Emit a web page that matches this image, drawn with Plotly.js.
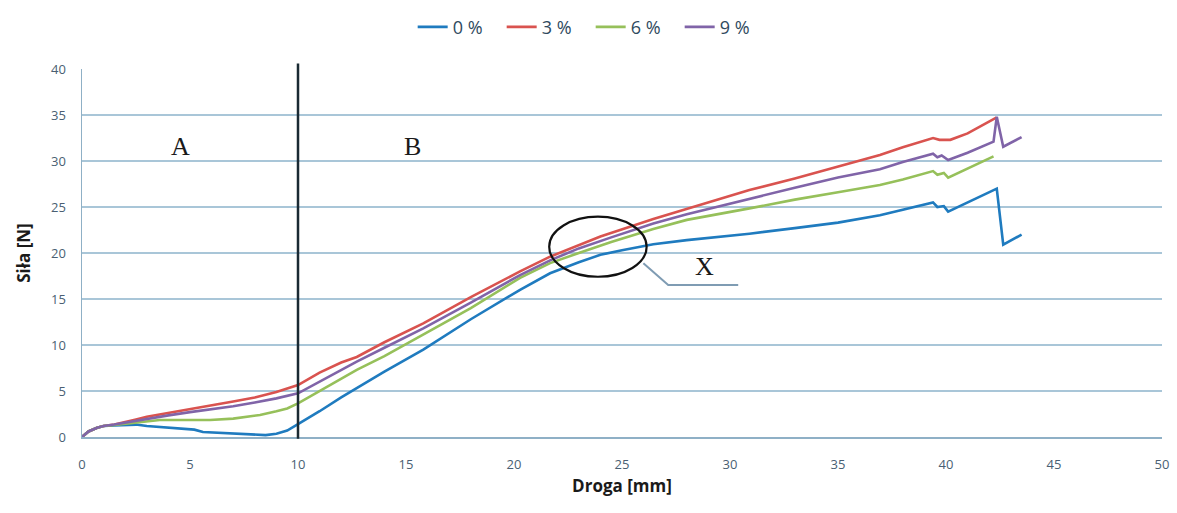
<!DOCTYPE html>
<html>
<head>
<meta charset="utf-8">
<script src="https://cdn.plot.ly/plotly-3.0.1.min.js"></script>
<style>html,body{margin:0;padding:0;background:#fff;}#chart{width:1177px;height:513px;}</style>
</head>
<body>
<div id="chart"></div>
<script>
// Series names
const seriesNames = ["0 %", "3 %", "6 %", "9 %"];

// 0 %
const x0 = [0,0.3,0.7,1,1.5,2,2.5,3,3.6,4.5,5.2,5.6,6,7,8,8.5,9,9.5,10,11,12,12.72,14,15.8,18,20.28,21.67,23,24,25,26.45,28,30.9,33,35,36.94,38,39.4,39.6,39.9,40.1,41,42.35,42.65,43.5];
const y0 = [0,0.6,1.0,1.2,1.25,1.3,1.35,1.2,1.1,0.9,0.8,0.55,0.5,0.4,0.25,0.2,0.35,0.7,1.4,2.8,4.3,5.3,7.1,9.5,12.8,16.0,17.8,19.0,19.8,20.3,20.95,21.4,22.1,22.7,23.3,24.1,24.7,25.5,25.0,25.1,24.5,25.5,27.0,20.9,22.0];

// 3 %
const x3 = [0,0.3,0.7,1,1.5,2,2.5,3,4,5,6,7,8,9,10,11,12,12.72,14,15.8,18,20.28,21.67,23,24,26.45,28,30.9,33,35,36.94,38,39.4,39.7,40.2,41,42.35];
const y3 = [0,0.6,1.0,1.2,1.35,1.6,1.9,2.2,2.6,3.0,3.45,3.85,4.3,4.9,5.65,7.0,8.1,8.7,10.3,12.35,15.2,18.0,19.6,20.9,21.8,23.7,24.8,26.85,28.1,29.4,30.65,31.5,32.5,32.3,32.3,33.0,34.75];

// 6 %
const x6 = [0,0.3,0.7,1,1.5,2,2.5,3,3.6,4.5,5.93,7,8.24,9,9.5,10,11,12,12.72,14,15.8,18,20.28,21.67,23,24.5,26.45,28,30.9,33,35,36.94,38,39.4,39.6,39.9,40.1,41,42.2];
const y6 = [0,0.6,1.0,1.2,1.3,1.45,1.6,1.75,1.85,1.85,1.85,2.0,2.4,2.8,3.1,3.66,5.0,6.3,7.3,8.8,11.1,14.0,17.3,18.9,20.0,21.2,22.6,23.6,24.85,25.8,26.6,27.4,28.0,28.9,28.5,28.7,28.2,29.2,30.5];

// 9 %
const x9 = [0,0.3,0.7,1,1.5,2,2.5,3,4,5,6,7,8,9,10,11,12,12.72,14,15.8,18,20.28,21.67,23,24.5,26.45,28,30.9,33,35,36.94,38,39.4,39.6,39.8,40.1,41,42.2,42.35,42.65,43.5];
const y9 = [0,0.6,1.0,1.2,1.35,1.55,1.75,2.0,2.35,2.7,3.0,3.35,3.75,4.2,4.75,6.0,7.3,8.2,9.7,11.8,14.6,17.6,19.2,20.5,21.7,23.2,24.2,25.9,27.1,28.2,29.1,29.9,30.8,30.4,30.6,30.1,30.9,32.1,34.8,31.55,32.6];

const xTicks = [0,5,10,15,20,25,30,35,40,45,50];
const yTicks = [0,5,10,15,20,25,30,35,40];

const colors = ["#1f7bbf", "#d9534f", "#96c05a", "#8064a8"];
const xs = [x0, x3, x6, x9];
const ys = [y0, y3, y6, y9];

const traces = seriesNames.map((n, i) => ({
  x: xs[i], y: ys[i], name: n, type: "scatter", mode: "lines",
  line: {color: colors[i], width: 2.6}
}));

const tickFont = {family: "Open Sans, Noto Sans, sans-serif", size: 13, color: "#4a5f73"};
const serif = {family: "Liberation Serif, DejaVu Serif, serif", size: 26, color: "#1a1a1a"};

const layout = {
  width: 1177, height: 513,
  margin: {l: 82, r: 15, t: 69, b: 76, autoexpand: false},
  paper_bgcolor: "#ffffff", plot_bgcolor: "#ffffff",
  showlegend: true,
  legend: {orientation: "h", x: 0.471, xref: "paper", xanchor: "center", yref: "container", y: 0.947, yanchor: "middle",
    font: {family: "Open Sans, Noto Sans, sans-serif", size: 18, color: "#2f4a5e"},
    itemwidth: 30, entrywidth: 44, entrywidthmode: "pixels", tracegroupgap: 0},
  xaxis: {
    range: [0, 50], tickvals: xTicks, ticktext: xTicks.map(String),
    showgrid: false, zeroline: false, showline: true, linecolor: "#8fb0c6", linewidth: 1.5,
    ticks: "", tickfont: tickFont, ticklabelstandoff: 15,
    title: {text: "<b>Droga [mm]</b>", font: {family: "Open Sans, Noto Sans, sans-serif", size: 17, color: "#1a1a1a"}, standoff: 8}
  },
  yaxis: {
    range: [0, 40], tickvals: yTicks, ticktext: yTicks.map(String),
    showgrid: true, gridcolor: "#a9c6d8", gridwidth: 1.3,
    zeroline: false, showline: true, linecolor: "#8fb0c6", linewidth: 1.5,
    ticks: "", tickfont: tickFont, ticklabelstandoff: 12,
    title: {text: "<b>Siła [N]</b>", font: {family: "Open Sans, Noto Sans, sans-serif", size: 17, color: "#1a1a1a"}, standoff: 16}
  },
  shapes: [
    {type: "line", xref: "x", yref: "paper", x0: 10, x1: 10, y0: -0.005, y1: 1.015, line: {color: "#1a2a33", width: 2.5}},
    {type: "circle", xref: "x", yref: "y", x0: 21.63, x1: 26.14, y0: 17.42, y1: 23.95, line: {color: "#111111", width: 2.2}},
    {type: "path", xref: "x", yref: "y", path: "M 25.99 18.88 L 27.14 16.52 L 30.38 16.52", line: {color: "#7f9cb3", width: 2}}
  ],
  annotations: [
    {x: 4.54, y: 31.6, xref: "x", yref: "y", text: "A", showarrow: false, font: serif},
    {x: 15.28, y: 31.6, xref: "x", yref: "y", text: "B", showarrow: false, font: serif},
    {x: 28.84, y: 18.5, xref: "x", yref: "y", text: "X", showarrow: false, font: serif}
  ]
};

Plotly.newPlot("chart", traces, layout, {displayModeBar: false, staticPlot: true});
</script>
</body>
</html>
